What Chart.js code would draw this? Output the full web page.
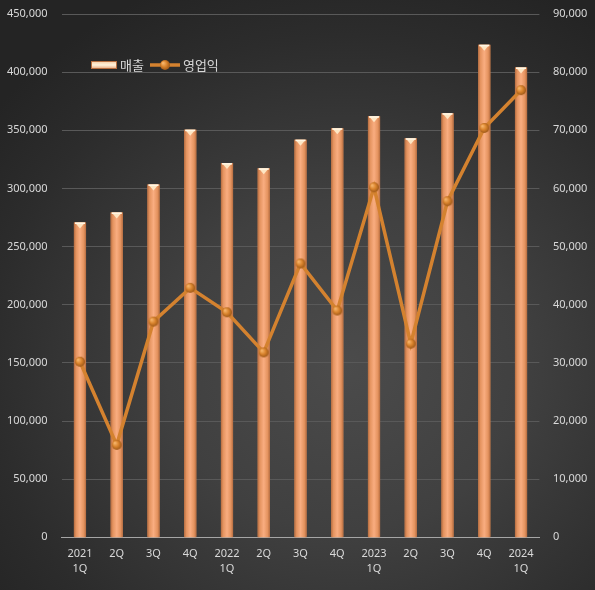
<!DOCTYPE html>
<html>
<head>
<meta charset="utf-8">
<script src="https://cdn.jsdelivr.net/npm/chart.js@4/dist/chart.umd.min.js"></script>
<style>
  html, body { margin: 0; padding: 0; background: #2b2b2b; }
  #wrap {
    position: relative; width: 595px; height: 590px;
    background: radial-gradient(ellipse 75% 70% at 58% 62%, #4b4b4b 0%, #404040 40%, #2c2c2c 80%, #242424 100%);
  }
  #legend {
    position: absolute; left: 91px; top: 55px; display: flex; align-items: center;
    font: 13px "Noto Sans CJK KR", "Noto Sans", sans-serif; color: #d9d9d9;
  }
  #legend span { margin-right: 6px; }
  #legend canvas { margin-right: 3px; }
</style>
</head>
<body>
<div id="wrap">
  <canvas id="chart" width="595" height="590"></canvas>
  <div id="legend">
    <canvas id="lgBar" width="26" height="8"></canvas><span>매출</span>
    <canvas id="lgLine" width="30" height="12"></canvas><span>영업익</span>
  </div>
</div>
<script>
const quarters  = [['2021', '1Q'], '2Q', '3Q', '4Q', ['2022', '1Q'], '2Q', '3Q', '4Q', ['2023', '1Q'], '2Q', '3Q', '4Q', ['2024', '1Q']];
const revenue   = [270700, 279300, 303400, 350500, 321800, 317300, 341900, 351700, 362100, 343100, 364700, 423500, 404000];
const opProfit  = [30200, 15900, 37100, 42900, 38700, 31800, 47100, 39000, 60200, 33300, 57800, 70400, 76900];
const seriesNames = ['매출', '영업익'];

const LINE = '#d4822f';
const TICK = '#d9d9d9';

// little shaded sphere used as the line marker
function ball(r) {
  const c = document.createElement('canvas');
  c.width = c.height = r * 2 + 2;
  const g = c.getContext('2d');
  const grd = g.createRadialGradient(r - 1, r - 1, 0.5, r + 1, r + 1, r + 1);
  grd.addColorStop(0, '#f6b46a');
  grd.addColorStop(0.45, '#d9832c');
  grd.addColorStop(1, '#8a4a12');
  g.fillStyle = grd;
  g.beginPath(); g.arc(r + 1, r + 1, r, 0, Math.PI * 2); g.fill();
  return c;
}
const marker = ball(5);

// legend icons
(function () {
  const b = document.getElementById('lgBar').getContext('2d');
  const gb = b.createLinearGradient(0, 0, 0, 8);
  gb.addColorStop(0, '#f7c9a0'); gb.addColorStop(0.5, '#fff3dc'); gb.addColorStop(1, '#e7a277');
  b.fillStyle = '#b86f40'; b.fillRect(0, 0, 26, 8);
  b.fillStyle = gb; b.fillRect(1, 1, 24, 6);
  const l = document.getElementById('lgLine').getContext('2d');
  l.strokeStyle = LINE; l.lineWidth = 3.5;
  l.beginPath(); l.moveTo(0, 6); l.lineTo(30, 6); l.stroke();
  l.drawImage(marker, 15 - 6, 6 - 6);
})();

// shading of the bars: horizontal cylinder gradient plus a bevelled top
const barShade = {
  id: 'barShade',
  afterDatasetDraw(chart, args) {
    if (args.meta.type !== 'bar') return;
    const ctx = chart.ctx;
    const bottom = chart.scales.y.bottom;
    args.meta.data.forEach(bar => {
      const w = bar.width, x0 = bar.x - w / 2, top = bar.y;
      if (!isFinite(w) || !isFinite(x0)) return;
      const g = ctx.createLinearGradient(x0, 0, x0 + w, 0);
      g.addColorStop(0, '#b56c40');
      g.addColorStop(0.18, '#e4935f');
      g.addColorStop(0.5, '#f9ad80');
      g.addColorStop(0.82, '#e4935f');
      g.addColorStop(1, '#b56c40');
      ctx.save();
      ctx.fillStyle = g;
      ctx.fillRect(x0, top, w, bottom - top);
      ctx.fillStyle = '#fde6c4';
      ctx.beginPath();
      ctx.moveTo(x0 + 1, top); ctx.lineTo(x0 + w - 1, top); ctx.lineTo(bar.x, top + 6);
      ctx.closePath(); ctx.fill();
      ctx.fillStyle = '#fff6e4';
      ctx.fillRect(x0 + 1, top, w - 2, 1.5);
      ctx.restore();
    });
  }
};

Chart.defaults.font.family = '"Noto Sans", "Noto Sans CJK KR", sans-serif';
Chart.defaults.font.size = 11;
Chart.defaults.color = TICK;

const noOverhang = s => { s.paddingTop = 0; s.paddingBottom = 0; };

new Chart(document.getElementById('chart'), {
  data: {
    labels: quarters,
    datasets: [
      {
        type: 'line', label: seriesNames[1], data: opProfit, yAxisID: 'y2', order: 0,
        borderColor: LINE, borderWidth: 3.5, pointStyle: marker, pointRadius: 6, pointHoverRadius: 6,
        tension: 0,
      },
      {
        type: 'bar', label: seriesNames[0], data: revenue, yAxisID: 'y', order: 1,
        backgroundColor: '#e4935f', barPercentage: 0.33, categoryPercentage: 1,
      },
    ],
  },
  options: {
    responsive: false, animation: false,
    layout: { padding: { top: 14, left: 0, right: 0, bottom: 0 } },
    plugins: { legend: { display: false }, tooltip: { enabled: false } },
    scales: {
      x: {
        grid: { display: false, drawTicks: false },
        border: { color: '#a6a6a6', width: 1 },
        ticks: { color: TICK, padding: 9, maxRotation: 0, autoSkip: false, font: { size: 11, lineHeight: 1.35 } },
        afterFit: s => { s.height = 52.7; s.paddingLeft = 0; s.paddingRight = 0; },
      },
      y: {
        position: 'left', min: 0, max: 450000,
        ticks: { stepSize: 50000, padding: 14, color: TICK, callback: v => v.toLocaleString('en-US') },
        grid: { color: '#595959', lineWidth: 1, drawTicks: false },
        border: { display: false },
        afterFit: s => { s.width = 61.6; noOverhang(s); },
      },
      y2: {
        position: 'right', min: 0, max: 90000,
        ticks: { stepSize: 10000, padding: 13.5, color: TICK, callback: v => v.toLocaleString('en-US') },
        grid: { display: false, drawTicks: false },
        border: { display: false },
        afterFit: s => { s.width = 55.6; noOverhang(s); },
      },
    },
  },
  plugins: [barShade],
});
</script>
</body>
</html>
